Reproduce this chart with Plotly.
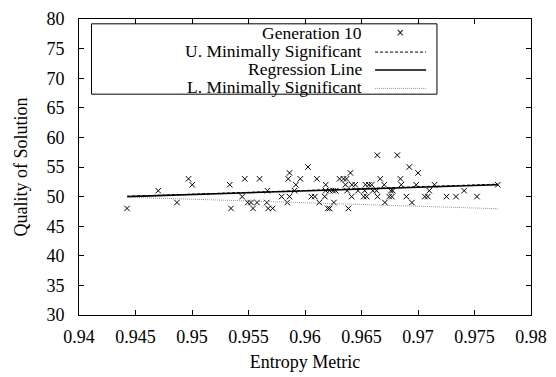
import plotly.graph_objects as go

# ---- data ----
entropy = [
    0.94425, 0.94701, 0.94867, 0.94969, 0.95002, 0.95334, 0.95345, 0.95444,
    0.95467, 0.95493, 0.95522, 0.95575, 0.95540, 0.95598, 0.95662, 0.95668,
    0.95674, 0.95714, 0.95793, 0.95863, 0.95863, 0.95852, 0.95843, 0.95907,
    0.95919, 0.95959, 0.96026, 0.96057, 0.96087, 0.96105, 0.96127, 0.96175,
    0.96183, 0.96183, 0.96201, 0.96218, 0.96218, 0.96256, 0.96249, 0.96271,
    0.96306, 0.96341, 0.96367, 0.96402, 0.96358, 0.96373, 0.96384, 0.96413,
    0.96415, 0.96445, 0.96469, 0.96520, 0.96546, 0.96535, 0.96565, 0.96590,
    0.96528, 0.96600, 0.96633, 0.96642, 0.96640, 0.96666, 0.96701, 0.96707,
    0.96745, 0.96769, 0.96760, 0.96777, 0.96817, 0.96845, 0.96852, 0.96897,
    0.96923, 0.96946, 0.96984, 0.97000, 0.97061, 0.97087, 0.97100, 0.97146,
    0.97252, 0.97336, 0.97408, 0.97522, 0.97706,
]
quality = [
    48, 51, 49, 53, 52, 52, 48, 50,
    53, 49, 49, 49, 48, 53, 49, 51,
    48, 48, 50, 50, 54, 53, 49, 51,
    52, 53, 55, 50, 50, 53, 49, 50,
    52, 51, 48, 48, 51, 49, 51, 51,
    53, 53, 53, 54, 52, 51, 48, 50,
    52, 52, 51, 50, 50, 52, 52, 52,
    51, 51, 51, 50, 57, 53, 52, 49,
    50, 50, 51, 51, 57, 53, 52, 50,
    55, 49, 52, 54, 50, 50, 51, 52,
    50, 50, 51, 50, 52,
]

line_x = [0.94425, 0.97706]
upper_y = [50.05, 52.1]
regression_y = [50.0, 52.0]
lower_y = [49.9, 47.95]

series_names = ["Generation 10", "U. Minimally Significant",
                "Regression Line", "L. Minimally Significant"]

x_ticks = [0.94, 0.945, 0.95, 0.955, 0.96, 0.965, 0.97, 0.975, 0.98]
x_tick_labels = ["0.94", "0.945", "0.95", "0.955", "0.96", "0.965", "0.97", "0.975", "0.98"]
y_ticks = [30, 35, 40, 45, 50, 55, 60, 65, 70, 75, 80]
y_tick_labels = [str(v) for v in y_ticks]

FONT = "Liberation Serif, Times New Roman, serif"
FS = 18
LEG_FS = 17.5

fig = go.Figure()
fig.add_trace(go.Scatter(
    x=entropy, y=quality, mode="markers", name=series_names[0],
    marker=dict(symbol="x-thin", size=5.5, color="black",
                line=dict(width=1, color="black")),
    showlegend=False,
))
fig.add_trace(go.Scatter(
    x=line_x, y=upper_y, mode="lines", name=series_names[1],
    line=dict(color="black", width=1, dash="3px,2px"), showlegend=False,
))
fig.add_trace(go.Scatter(
    x=line_x, y=regression_y, mode="lines", name=series_names[2],
    line=dict(color="black", width=1.6), showlegend=False,
))
fig.add_trace(go.Scatter(
    x=line_x, y=lower_y, mode="lines", name=series_names[3],
    line=dict(color="#999999", width=1, dash="1px,1px"), showlegend=False,
))

# ---- custom legend (gnuplot style: text right, sample left) ----
box = dict(x0=0.0277, x1=0.7919, y0=0.746, y1=0.9837)
row_y = [0.9542, 0.8922, 0.8317, 0.7696]
text_right = 0.6295
sample_x0, sample_x1, marker_x = 0.655, 0.7679, 0.7103

shapes = [dict(type="rect", xref="paper", yref="paper", **box,
               line=dict(color="black", width=1), fillcolor="white", layer="below")]
annotations = []
for name, yy in zip(series_names, row_y):
    annotations.append(dict(xref="paper", yref="paper", x=text_right, y=yy,
                            text=name, showarrow=False, xanchor="right",
                            yanchor="middle", font=dict(family=FONT, size=LEG_FS, color="black")))
annotations.append(dict(xref="paper", yref="paper", x=marker_x, y=row_y[0],
                        text="×", showarrow=False, xanchor="center", yanchor="middle",
                        font=dict(family="DejaVu Sans", size=10, color="black")))
styles = [dict(color="black", width=1, dash="3px,2px"),
          dict(color="black", width=1.6),
          dict(color="#999999", width=1, dash="1px,1px")]
for st, yy in zip(styles, row_y[1:]):
    shapes.append(dict(type="line", xref="paper", yref="paper",
                       x0=sample_x0, x1=sample_x1, y0=yy - 0.004, y1=yy - 0.004, line=st))

axis_common = dict(showline=True, linecolor="black", linewidth=1, mirror="ticks",
                   ticks="inside", ticklen=5, tickcolor="black", showgrid=False,
                   zeroline=False, ticklabeloverflow="allow",
                   tickfont=dict(family=FONT, size=FS, color="black"))

fig.update_layout(
    width=556, height=377,
    margin=dict(l=79, r=19, t=9, b=62),
    paper_bgcolor="white", plot_bgcolor="white",
    font=dict(family=FONT, size=FS, color="black"),
    shapes=shapes, annotations=annotations,
    xaxis=dict(range=[0.94, 0.98], tickvals=x_ticks, ticktext=x_tick_labels,
               title=dict(text="Entropy Metric", font=dict(family=FONT, size=FS), standoff=9),
               ticklabelstandoff=5, **axis_common),
    yaxis=dict(range=[30, 80], tickvals=y_ticks, ticktext=y_tick_labels,
               title=dict(text="Quality of Solution", font=dict(family=FONT, size=FS), standoff=14),
               ticklabelstandoff=10, **axis_common),
)

fig.write_html("out.html")
